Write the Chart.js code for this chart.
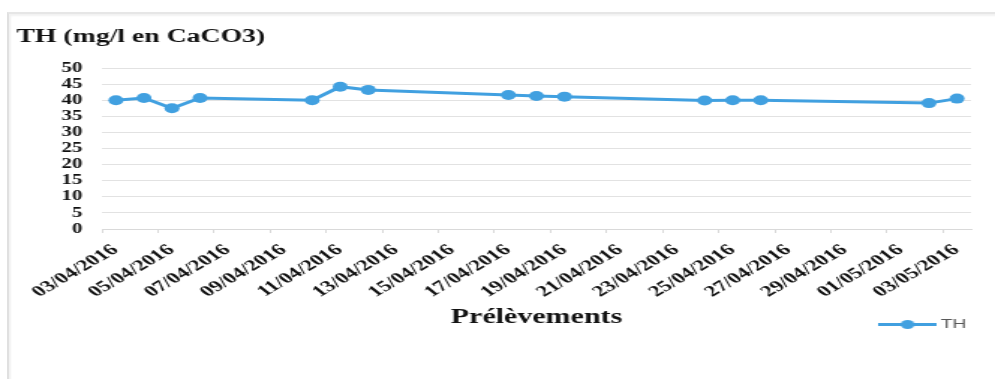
<!DOCTYPE html>
<html>
<head>
<meta charset="utf-8">
<script src="https://cdn.jsdelivr.net/npm/chart.js@4/dist/chart.umd.min.js"></script>
<style>
  html, body { margin: 0; padding: 0; background: #fff; overflow: hidden; }
  #frame {
    position: absolute; left: 7px; top: 12px; width: 1100px; height: 500px;
    border-left: 2px solid #e0e0e0; border-top: 2px solid #e6e6e6;
    box-shadow: inset 2px 2px 2px #f2f2f2;
  }
  #wrap { position: absolute; left: 0; top: 0; width: 995px; height: 379px; }
</style>
</head>
<body>
<div id="frame"></div>
<div id="wrap"><canvas id="c" width="664" height="379" style="width:995px;height:379px;display:block"></canvas></div>
<script>
// Sampling dates (dd/mm/yyyy) and total hardness values
const sampleDates = ['03/04/2016', '04/04/2016', '05/04/2016', '06/04/2016', '10/04/2016',
  '11/04/2016', '12/04/2016', '17/04/2016', '18/04/2016', '19/04/2016',
  '24/04/2016', '25/04/2016', '26/04/2016', '02/05/2016', '03/05/2016'];
const thValues = [40, 40.7, 37.5, 40.7, 40, 44.2, 43.2, 41.6, 41.3, 41.1, 39.9, 40, 40, 39.1, 40.5];

// Date axis labels, one every two days
const xTickLabels = ['03/04/2016', '05/04/2016', '07/04/2016', '09/04/2016', '11/04/2016',
  '13/04/2016', '15/04/2016', '17/04/2016', '19/04/2016', '21/04/2016', '23/04/2016',
  '25/04/2016', '27/04/2016', '29/04/2016', '01/05/2016', '03/05/2016'];
const yTicks = [0, 5, 10, 15, 20, 25, 30, 35, 40, 45, 50];

const BLUE = '#41a0e0';
const DAY_MS = 86400000;

function parseDate(s) {
  const [d, m, y] = s.split('/').map(Number);
  return Date.UTC(y, m - 1, d);
}
const t0 = parseDate(xTickLabels[0]);
const dayOf = s => Math.round((parseDate(s) - t0) / DAY_MS);
const lastDay = dayOf(xTickLabels[xTickLabels.length - 1]);

// Legend symbol: line through a round marker
function legendSymbol() {
  const cv = document.createElement('canvas');
  cv.width = 39; cv.height = 13;
  const g = cv.getContext('2d');
  g.strokeStyle = BLUE; g.lineWidth = 3;
  g.beginPath(); g.moveTo(0, 6.5); g.lineTo(39, 6.5); g.stroke();
  g.fillStyle = BLUE;
  g.beginPath(); g.arc(19.5, 6.5, 4.6, 0, Math.PI * 2); g.fill();
  return cv;
}
const symbol = legendSymbol();

const serif = 'Liberation Serif';

new Chart(document.getElementById('c'), {
  type: 'line',
  data: {
    datasets: [{
      label: 'TH',
      data: sampleDates.map((d, i) => ({ x: dayOf(d), y: thValues[i] })),
      borderColor: BLUE,
      backgroundColor: BLUE,
      borderWidth: 3,
      pointRadius: 5,
      pointHoverRadius: 5,
      pointBorderWidth: 0,
      pointBackgroundColor: BLUE,
      tension: 0
    }]
  },
  options: {
    responsive: false,
    animation: false,
    devicePixelRatio: 1,
    layout: { padding: { left: 11, right: 16, top: 14, bottom: 38 } },
    plugins: {
      tooltip: { enabled: false },
      title: {
        display: true,
        text: 'TH (mg/l en CaCO3)',
        align: 'start',
        color: '#111',
        font: { family: serif, size: 18.5, weight: 'bold' },
        padding: { top: 12, bottom: 19.8 }
      },
      legend: {
        position: 'bottom',
        align: 'end',
        labels: {
          usePointStyle: true,
          pointStyleWidth: 31,
          padding: 3,
          color: '#595959',
          font: { family: 'Liberation Sans', size: 13 },
          generateLabels: chart => chart.data.datasets.map((ds, i) => ({
            text: ds.label,
            pointStyle: symbol,
            fillStyle: BLUE,
            strokeStyle: BLUE,
            lineWidth: 0,
            fontColor: '#595959',
            datasetIndex: i,
            hidden: false
          }))
        }
      }
    },
    scales: {
      x: {
        type: 'linear',
        min: -0.5,
        max: lastDay + 0.5,
        afterBuildTicks: scale => {
          scale.ticks = xTickLabels.map((_, k) => ({ value: dayOf(xTickLabels[k]) - 0.5 }));
        },
        afterFit: scale => { scale.height = 86; },
        ticks: {
          autoSkip: false,
          minRotation: 41,
          maxRotation: 41,
          labelOffset: 9,
          padding: 8,
          color: '#111',
          font: { family: serif, size: 15.5, weight: 'bold' },
          callback: (v, i) => xTickLabels[i]
        },
        grid: { drawOnChartArea: false, drawTicks: true, tickLength: 4, color: '#d9d9d9' },
        border: { display: true, color: '#d9d9d9', width: 1 },
        title: {
          display: true,
          text: 'Prélèvements',
          color: '#111',
          font: { family: serif, size: 20, weight: 'bold' },
          padding: { top: 0, bottom: -15 }
        }
      },
      y: {
        min: 0,
        max: 50,
        afterBuildTicks: scale => { scale.ticks = yTicks.map(v => ({ value: v })); },
        afterFit: scale => { scale.width = 57; },
        ticks: {
          autoSkip: false,
          padding: 13,
          color: '#111',
          font: { family: serif, size: 14, weight: 'bold' }
        },
        grid: { drawTicks: false, color: '#e2e2e2' },
        border: { display: false }
      }
    }
  }
});
</script>
</body>
</html>
